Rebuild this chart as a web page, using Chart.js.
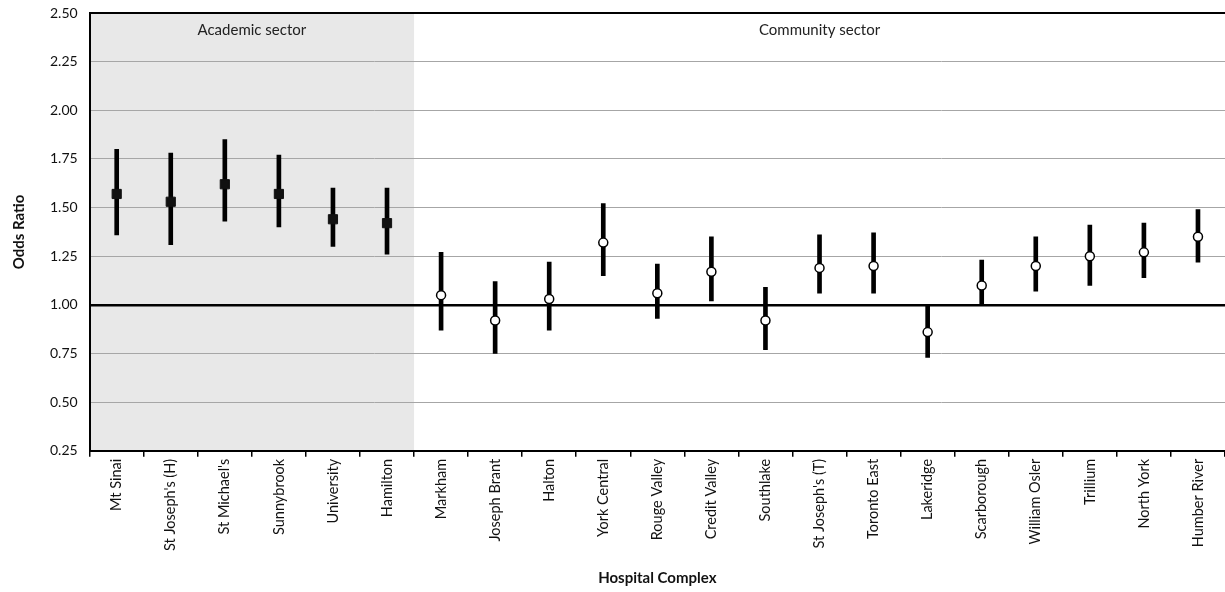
<!DOCTYPE html>
<html>
<head>
<meta charset="utf-8">
<script src="https://cdn.jsdelivr.net/npm/chart.js@4.4.1/dist/chart.umd.min.js"></script>
<style>
  html, body { margin: 0; padding: 0; background: #fff; }
  #wrap { width: 1225px; height: 592px; position: relative; }
</style>
</head>
<body>
<div id="wrap"><canvas id="chart"></canvas></div>
<script>
// hospitals, first 6 are the academic ones
const hospitals = ["Mt Sinai", "St Joseph's (H)", "St Michael's", "Sunnybrook", "University", "Hamilton",
    "Markham", "Joseph Brant", "Halton", "York Central", "Rouge Valley", "Credit Valley", "Southlake",
    "St Joseph's (T)", "Toronto East", "Lakeridge", "Scarborough", "William Osler", "Trillium", "North York", "Humber River"];
const academicCount = 6;
const sectorNames = ['Academic sector', 'Community sector'];

const oddsRatio = [1.57, 1.53, 1.62, 1.57, 1.44, 1.42, 1.05, 0.92, 1.03, 1.32, 1.06, 1.17, 0.92, 1.19, 1.20, 0.86, 1.10, 1.20, 1.25, 1.27, 1.35];
const ciLower   = [1.36, 1.31, 1.43, 1.40, 1.30, 1.26, 0.87, 0.75, 0.87, 1.15, 0.93, 1.02, 0.77, 1.06, 1.06, 0.73, 1.00, 1.07, 1.10, 1.14, 1.22];
const ciUpper   = [1.80, 1.78, 1.85, 1.77, 1.60, 1.60, 1.27, 1.12, 1.22, 1.52, 1.21, 1.35, 1.09, 1.36, 1.37, 1.00, 1.23, 1.35, 1.41, 1.42, 1.49];

const yTicks = [0.25, 0.50, 0.75, 1.00, 1.25, 1.50, 1.75, 2.00, 2.25, 2.50];

const FONT = 'Lato, "Liberation Sans", sans-serif';

// shaded academic area + sector captions + top border
const sectorPlugin = {
    id: 'sectors',
    beforeDraw(chart) {
        const { ctx, chartArea, scales } = chart;
        const x = scales.x;
        const split = (x.getPixelForValue(academicCount - 1) + x.getPixelForValue(academicCount)) / 2;
        ctx.save();
        ctx.fillStyle = '#e8e8e8';
        ctx.fillRect(chartArea.left, chartArea.top, split - chartArea.left, chartArea.bottom - chartArea.top);
        ctx.restore();
    },
    afterDraw(chart) {
        const { ctx, chartArea, scales } = chart;
        const x = scales.x;
        const split = (x.getPixelForValue(academicCount - 1) + x.getPixelForValue(academicCount)) / 2;
        ctx.save();
        ctx.strokeStyle = '#000';
        ctx.lineWidth = 2;
        ctx.beginPath();
        ctx.moveTo(chartArea.left, chartArea.top);
        ctx.lineTo(chartArea.right, chartArea.top);
        ctx.stroke();
        ctx.fillStyle = '#222';
        ctx.font = '15px ' + FONT;
        ctx.textAlign = 'center';
        ctx.textBaseline = 'middle';
        ctx.fillText(sectorNames[0], (chartArea.left + split) / 2, chartArea.top + 17);
        ctx.fillText(sectorNames[1], (split + chartArea.right) / 2, chartArea.top + 17);
        ctx.restore();
    }
};

new Chart(document.getElementById('chart').getContext('2d'), {
    type: 'bar',
    data: {
        labels: hospitals,
        datasets: [
            {
                label: 'Academic',
                type: 'line',
                data: oddsRatio.map((v, i) => i < academicCount ? v : null),
                showLine: false,
                pointStyle: 'rect',
                pointRadius: 6.5,
                backgroundColor: '#111',
                borderColor: '#111',
                borderWidth: 1,
                order: 0
            },
            {
                label: 'Community',
                type: 'line',
                data: oddsRatio.map((v, i) => i >= academicCount ? v : null),
                showLine: false,
                pointStyle: 'circle',
                pointRadius: 4.5,
                backgroundColor: '#fff',
                borderColor: '#000',
                borderWidth: 1.5,
                order: 0
            },
            {
                label: '95% CI',
                data: ciLower.map((l, i) => [l, ciUpper[i]]),
                backgroundColor: '#000',
                borderWidth: 0,
                barThickness: 4,
                order: 1
            }
        ]
    },
    options: {
        responsive: true,
        maintainAspectRatio: false,
        animation: false,
        layout: { autoPadding: false, padding: { top: 0, right: 0, left: 10, bottom: 5 } },
        plugins: {
            legend: { display: false },
            tooltip: { enabled: false }
        },
        scales: {
            x: {
                offset: true,
                afterFit(axis) {
                    // let the plot run to the right edge like the original
                    axis.paddingRight = 0;
                },
                grid: {
                    offset: true,
                    drawOnChartArea: false,
                    drawTicks: true,
                    tickLength: 6,
                    color: '#000',
                    lineWidth: 1.5
                },
                border: { color: '#000', width: 2 },
                ticks: {
                    minRotation: 90,
                    maxRotation: 90,
                    autoSkip: false,
                    color: '#111',
                    padding: 2,
                    font: { family: FONT, size: 14.5 }
                },
                title: {
                    display: true,
                    text: 'Hospital Complex',
                    color: '#111',
                    font: { family: FONT, size: 15, weight: 'bold' },
                    padding: { top: 16, bottom: 0 }
                }
            },
            y: {
                min: yTicks[0],
                max: yTicks[yTicks.length - 1],
                afterBuildTicks(axis) {
                    axis.ticks = yTicks.map(v => ({ value: v }));
                },
                afterFit(axis) {
                    axis.paddingTop = 13;
                },
                grid: {
                    drawTicks: false,
                    color: (c) => (c.tick && (c.tick.value === 1 || c.tick.value === 2.5)) ? '#000' : '#a6a6a6',
                    lineWidth: (c) => (c.tick && c.tick.value === 1) ? 2.5 : 1
                },
                border: { color: '#000', width: 2 },
                ticks: {
                    color: '#111',
                    padding: 12,
                    font: { family: FONT, size: 14 },
                    callback: (v) => Number(v).toFixed(2)
                },
                title: {
                    display: true,
                    text: 'Odds Ratio',
                    color: '#111',
                    font: { family: FONT, size: 15, weight: 'bold' },
                    padding: { top: 0, bottom: 10 }
                }
            }
        }
    },
    plugins: [sectorPlugin]
});
</script>
</body>
</html>
